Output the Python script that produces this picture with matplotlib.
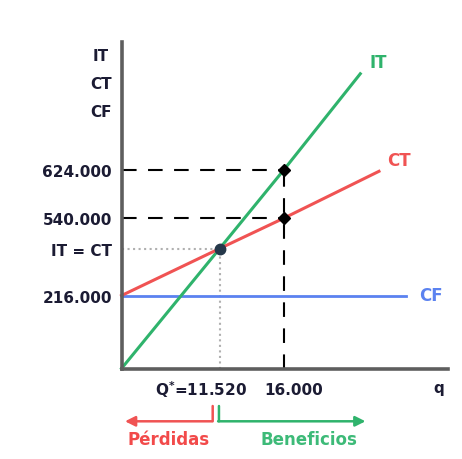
import numpy as np
import matplotlib
matplotlib.use('Agg')
import matplotlib.pyplot as plt
from matplotlib.transforms import offset_copy

# break-even data (values as labelled in the picture)
q_it = [0, 11520, 16000, 21300]
it_vals = [0, 449280, 624000, 790000]
q_ct = [0, 11520, 16000, 22600]
ct_vals = [216000, 449280, 540000, 621000]
q_cf = [0, 24500]
cf_vals = [216000, 216000]

q_star = 11520
y_star = 449280
q_check = 16000
it_check = 624000
ct_check = 540000

y_ticks = [216000, 449280, 540000, 624000]
y_labels = ['216.000', 'IT = CT', '540.000', '624.000']

q_max = 27400
y_max = 845000

GREEN = '#2fb36c'
RED = '#f05353'
BLUE = '#5b82f0'
INK = '#1b1b33'

# the original axis is not drawn to scale: piecewise linear spacing
x_knots = ([0, 11520, 16000], [0, 97.5, 161.5])
y_knots = ([0, 216000, 449280, 540000, 624000], [0, 73, 120, 150.5, 199])


def piecewise(vals, pos):
    vals = np.asarray(vals, float)
    pos = np.asarray(pos, float)
    lo = (pos[1] - pos[0]) / (vals[1] - vals[0])
    hi = (pos[-1] - pos[-2]) / (vals[-1] - vals[-2])

    def fwd(v):
        v = np.asarray(v, float)
        out = np.interp(v, vals, pos)
        out = np.where(v > vals[-1], pos[-1] + (v - vals[-1]) * hi, out)
        out = np.where(v < vals[0], pos[0] + (v - vals[0]) * lo, out)
        return out

    def inv(p):
        p = np.asarray(p, float)
        out = np.interp(p, pos, vals)
        out = np.where(p > pos[-1], vals[-1] + (p - pos[-1]) / hi, out)
        out = np.where(p < pos[0], vals[0] + (p - pos[0]) / lo, out)
        return out

    return fwd, inv


plt.rcParams['font.family'] = ['DejaVu Sans']
plt.rcParams['font.weight'] = 'bold'

fig = plt.figure(figsize=(4.62, 4.60), dpi=100)
ax = fig.add_axes([0.263, 0.1967, 0.7067, 0.7098])
ax.set_xscale('function', functions=piecewise(*x_knots))
ax.set_yscale('function', functions=piecewise(*y_knots))
ax.set_xlim(0, q_max)
ax.set_ylim(0, y_max)

# lines
ax.plot(q_it, it_vals, color=GREEN, lw=2.2, zorder=3, clip_on=False)
ax.plot(q_ct, ct_vals, color=RED, lw=2.2, zorder=3, clip_on=False)
ax.plot(q_cf, cf_vals, color=BLUE, lw=2.0, zorder=2, clip_on=False)

# guides
dash = (0, (7, 5.5))
ax.plot([0, q_check], [it_check, it_check], color='black', lw=1.5, ls=dash, zorder=1)
ax.plot([0, q_check], [ct_check, ct_check], color='black', lw=1.5, ls=dash, zorder=1)
ax.plot([q_check, q_check], [0, it_check], color='black', lw=1.5, ls=dash, zorder=1)
ax.plot([0, q_star], [y_star, y_star], color='#b0b0b0', lw=1.5, ls=':', zorder=1)
ax.plot([q_star, q_star], [0, y_star], color='#b0b0b0', lw=1.5, ls=':', zorder=1)

# points
ax.plot([q_check, q_check], [it_check, ct_check], 'D', color='black', ms=6.2, zorder=5)
ax.plot([q_star], [y_star], 'o', color='#25384a', ms=7.5, zorder=5)

# line labels
ax.annotate('IT', (q_it[-1], it_vals[-1]), xytext=(6.5, 8.6), textcoords='offset points',
            color=GREEN, fontsize=12, fontweight='bold', ha='left', va='center')
ax.annotate('CT', (q_ct[-1], ct_vals[-1]), xytext=(5.8, 8), textcoords='offset points',
            color=RED, fontsize=12, fontweight='bold', ha='left', va='center')
ax.annotate('CF', (q_cf[-1], cf_vals[-1]), xytext=(9, 0.5), textcoords='offset points',
            color=BLUE, fontsize=12, fontweight='bold', ha='left', va='center')

# axes look
for s in ['top', 'right']:
    ax.spines[s].set_visible(False)
for s in ['left', 'bottom']:
    ax.spines[s].set_color('#5e5e5e')
    ax.spines[s].set_linewidth(2.6)
    ax.spines[s].set_zorder(4)

ax.set_xticks([])
ax.set_yticks(y_ticks, labels=y_labels)
ax.tick_params(axis='y', length=0, pad=7, labelsize=11, labelcolor=INK)
for t in ax.get_yticklabels():
    t.set_fontweight('bold')

# axis titles
for i, name in enumerate(['IT', 'CT', 'CF']):
    ax.annotate(name, (0, 1), xycoords='axes fraction', xytext=(-14.8, -9.4 - 20.2 * i),
                textcoords='offset points', ha='center', va='center',
                fontsize=11, fontweight='bold', color=INK)
ax.annotate('q', (1, 0), xycoords='axes fraction', xytext=(-7, -13.5),
            textcoords='offset points', ha='center', va='center',
            fontsize=11, fontweight='bold', color=INK)

# x labels
ax.annotate(r'Q$^{\mathbf{*}}$=11.520', (q_star, 0), xytext=(20, -14.8),
            textcoords='offset points', ha='right', va='center',
            fontsize=11, fontweight='bold', color=INK, annotation_clip=False)
ax.annotate('16.000', (q_check, 0), xytext=(6.8, -14.8),
            textcoords='offset points', ha='center', va='center',
            fontsize=11, fontweight='bold', color=INK, annotation_clip=False)


# losses / profits brackets
def off(dx, dy):
    return offset_copy(ax.transData, fig=fig, x=dx, y=dy, units='points')


def bracket(x0, dx0, x1, dx1, color):
    # short vertical stem, then horizontal arrow
    ax.annotate('', xy=(x0, 0), xycoords=off(dx0, -38), xytext=(x0, 0), textcoords=off(dx0, -27),
                annotation_clip=False,
                arrowprops=dict(arrowstyle='-', color=color, lw=1.8, shrinkA=0, shrinkB=0))
    ax.annotate('', xy=(x1, 0), xycoords=off(dx1, -38), xytext=(x0, 0), textcoords=off(dx0 - 0.6, -38),
                annotation_clip=False,
                arrowprops=dict(arrowstyle='-|>', color=color, lw=1.8, mutation_scale=15,
                                shrinkA=0, shrinkB=0))


bracket(q_star, -5, 0, 2.5, RED)
bracket(q_star, -0.5, q_star, 105, GREEN)

ax.annotate('Pérdidas', (q_star, 0), xytext=(-37, -50.8), textcoords='offset points',
            ha='center', va='center', fontsize=12, fontweight='bold', color='#f24a4a',
            annotation_clip=False)
ax.annotate('Beneficios', (q_star, 0), xytext=(64, -50.8), textcoords='offset points',
            ha='center', va='center', fontsize=12, fontweight='bold', color='#3dba78',
            annotation_clip=False)

fig.savefig('out.png', dpi=100)
